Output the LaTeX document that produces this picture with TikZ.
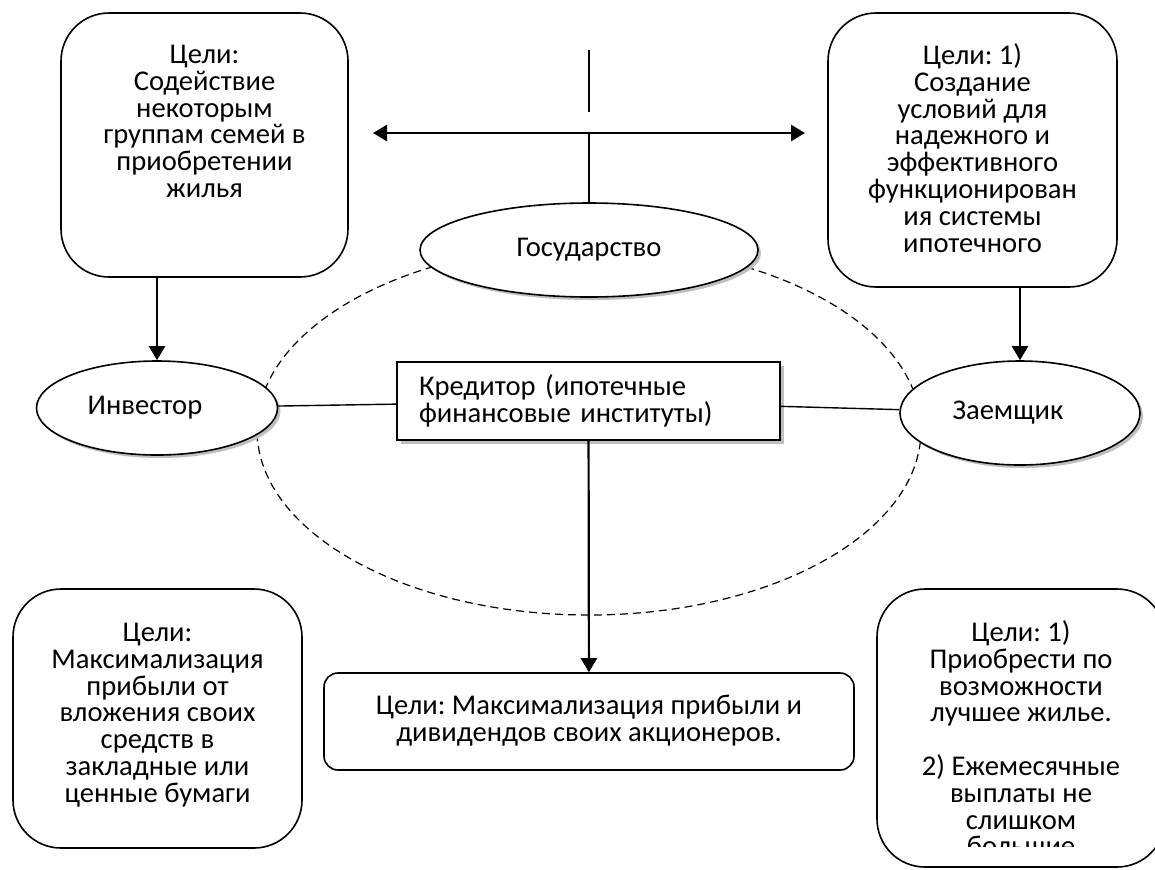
\documentclass[tikz,border=0pt]{standalone}
\usepackage{fontspec}
\setmainfont{Carlito}
\usetikzlibrary{arrows.meta}
\usetikzlibrary{positioning}
\usetikzlibrary{shapes.geometric}
\usetikzlibrary{shadows}
\newcommand{\topstrut}{\rule{0pt}{11pt}}

\begin{document}
\begin{tikzpicture}[x=0.5pt,y=-0.5pt,>={Triangle[width=8pt,length=7pt]},
                    font=\fontsize{14.3pt}{13.4pt}\selectfont\frenchspacing,
                    goal/.style={draw,line width=0.8pt,rounded corners=24pt,inner sep=0pt},
                    goal text/.style={anchor=north,align=center,inner sep=0pt},
                    role/.style={ellipse,draw,fill=white,line width=0.8pt,
                      drop shadow={shadow xshift=1.5pt,shadow yshift=-1.5pt,fill=black!25,opacity=1}},
                    link/.style={-,line width=0.7pt},
                    pointer/.style={->,line width=1.1pt}]

  \useasboundingbox (0,0) rectangle (1155,869);

  % market area
  \node[ellipse,draw,line width=0.6pt,dash pattern=on 4pt off 2.5pt,
        minimum width=332pt,minimum height=185pt] (market) at (589,430) {};

  % participants
  \node[role,minimum width=169pt,minimum height=47pt] (gos) at (589,250) {Государство};
  \node[role,minimum width=120.5pt,minimum height=47pt] (inv) at (157,408) {Инвестор\hspace*{12pt}};
  \node[role,minimum width=120pt,minimum height=52pt] (zaem) at (1020,413) {Заемщик\hspace*{12pt}};
  \node[draw,fill=white,line width=0.8pt,text width=169.5pt,inner xsep=11pt,
        minimum height=39pt,align=left,
        drop shadow={shadow xshift=2pt,shadow yshift=-2pt,fill=black!25,opacity=1}]
        (kred) at (588.5,401) {Кредитор (ипотечные\\финансовые институты)};

  % goals
  \node[goal,minimum width=143.5pt,minimum height=132pt] (aimTL) at (204.5,145) {};
  \node[goal text] (txtTL) at (204.5,41)
    {\topstrut Цели:\\Содействие\\некоторым\\группам семей в\\приобретении\\жилья};

  \node[goal,minimum width=144.5pt,minimum height=137pt] (aimTR) at (972.5,150) {};
  \node[goal text] (txtTR) at (972.5,42)
    {\topstrut Цели: 1)\\Создание\\условий для\\надежного и\\эффективного\\функционирован\\ия системы\\ипотечного};

  \node[goal,minimum width=144.5pt,minimum height=129.5pt] (aimBL) at (157.5,718.5) {};
  \node[goal text] (txtBL) at (157.5,619)
    {\topstrut Цели:\\Максимализация\\прибыли от\\вложения своих\\средств в\\закладные или\\ценные бумаги};

  \node[goal,minimum width=265pt,minimum height=48.5pt,rounded corners=7pt] (aimBC) at (589,721.5) {};
  \node[goal text] (txtBC) at (589,692)
    {\topstrut Цели: Максимализация прибыли и\\дивидендов своих акционеров.};

  \node[goal,minimum width=144pt,minimum height=139pt] (aimBR) at (1021,728) {};
  \begin{scope}
    \clip (870,580) rectangle (1160,846);
    \node[goal text] (txtBR) at (1021,619)
      {\topstrut Цели: 1)\\Приобрести по\\возможности\\лучшее жилье.\\[13.4pt]2) Ежемесячные\\выплаты не\\слишком\\большие};
  \end{scope}

  % connectors
  \coordinate (arrL) at (373,133);
  \coordinate (arrR) at (805,133);
  \coordinate (stem) at (589,133);
  \coordinate (tickT) at (589,50);
  \coordinate (tickB) at (589,112);

  \draw[<->,line width=1.3pt] (arrL) -- (arrR);

  \draw[link]
    (tickT) edge (tickB)
    (stem) edge (gos)
    (kred) edge (inv)
    (kred) edge (zaem)
    ;

  \draw[pointer] (aimTL.south -| inv.north) -- (inv.north);
  \draw[pointer] (aimTR.south -| zaem.north) -- (zaem.north);
  \draw[pointer] (kred) -- (aimBC);
\end{tikzpicture}
\end{document}
